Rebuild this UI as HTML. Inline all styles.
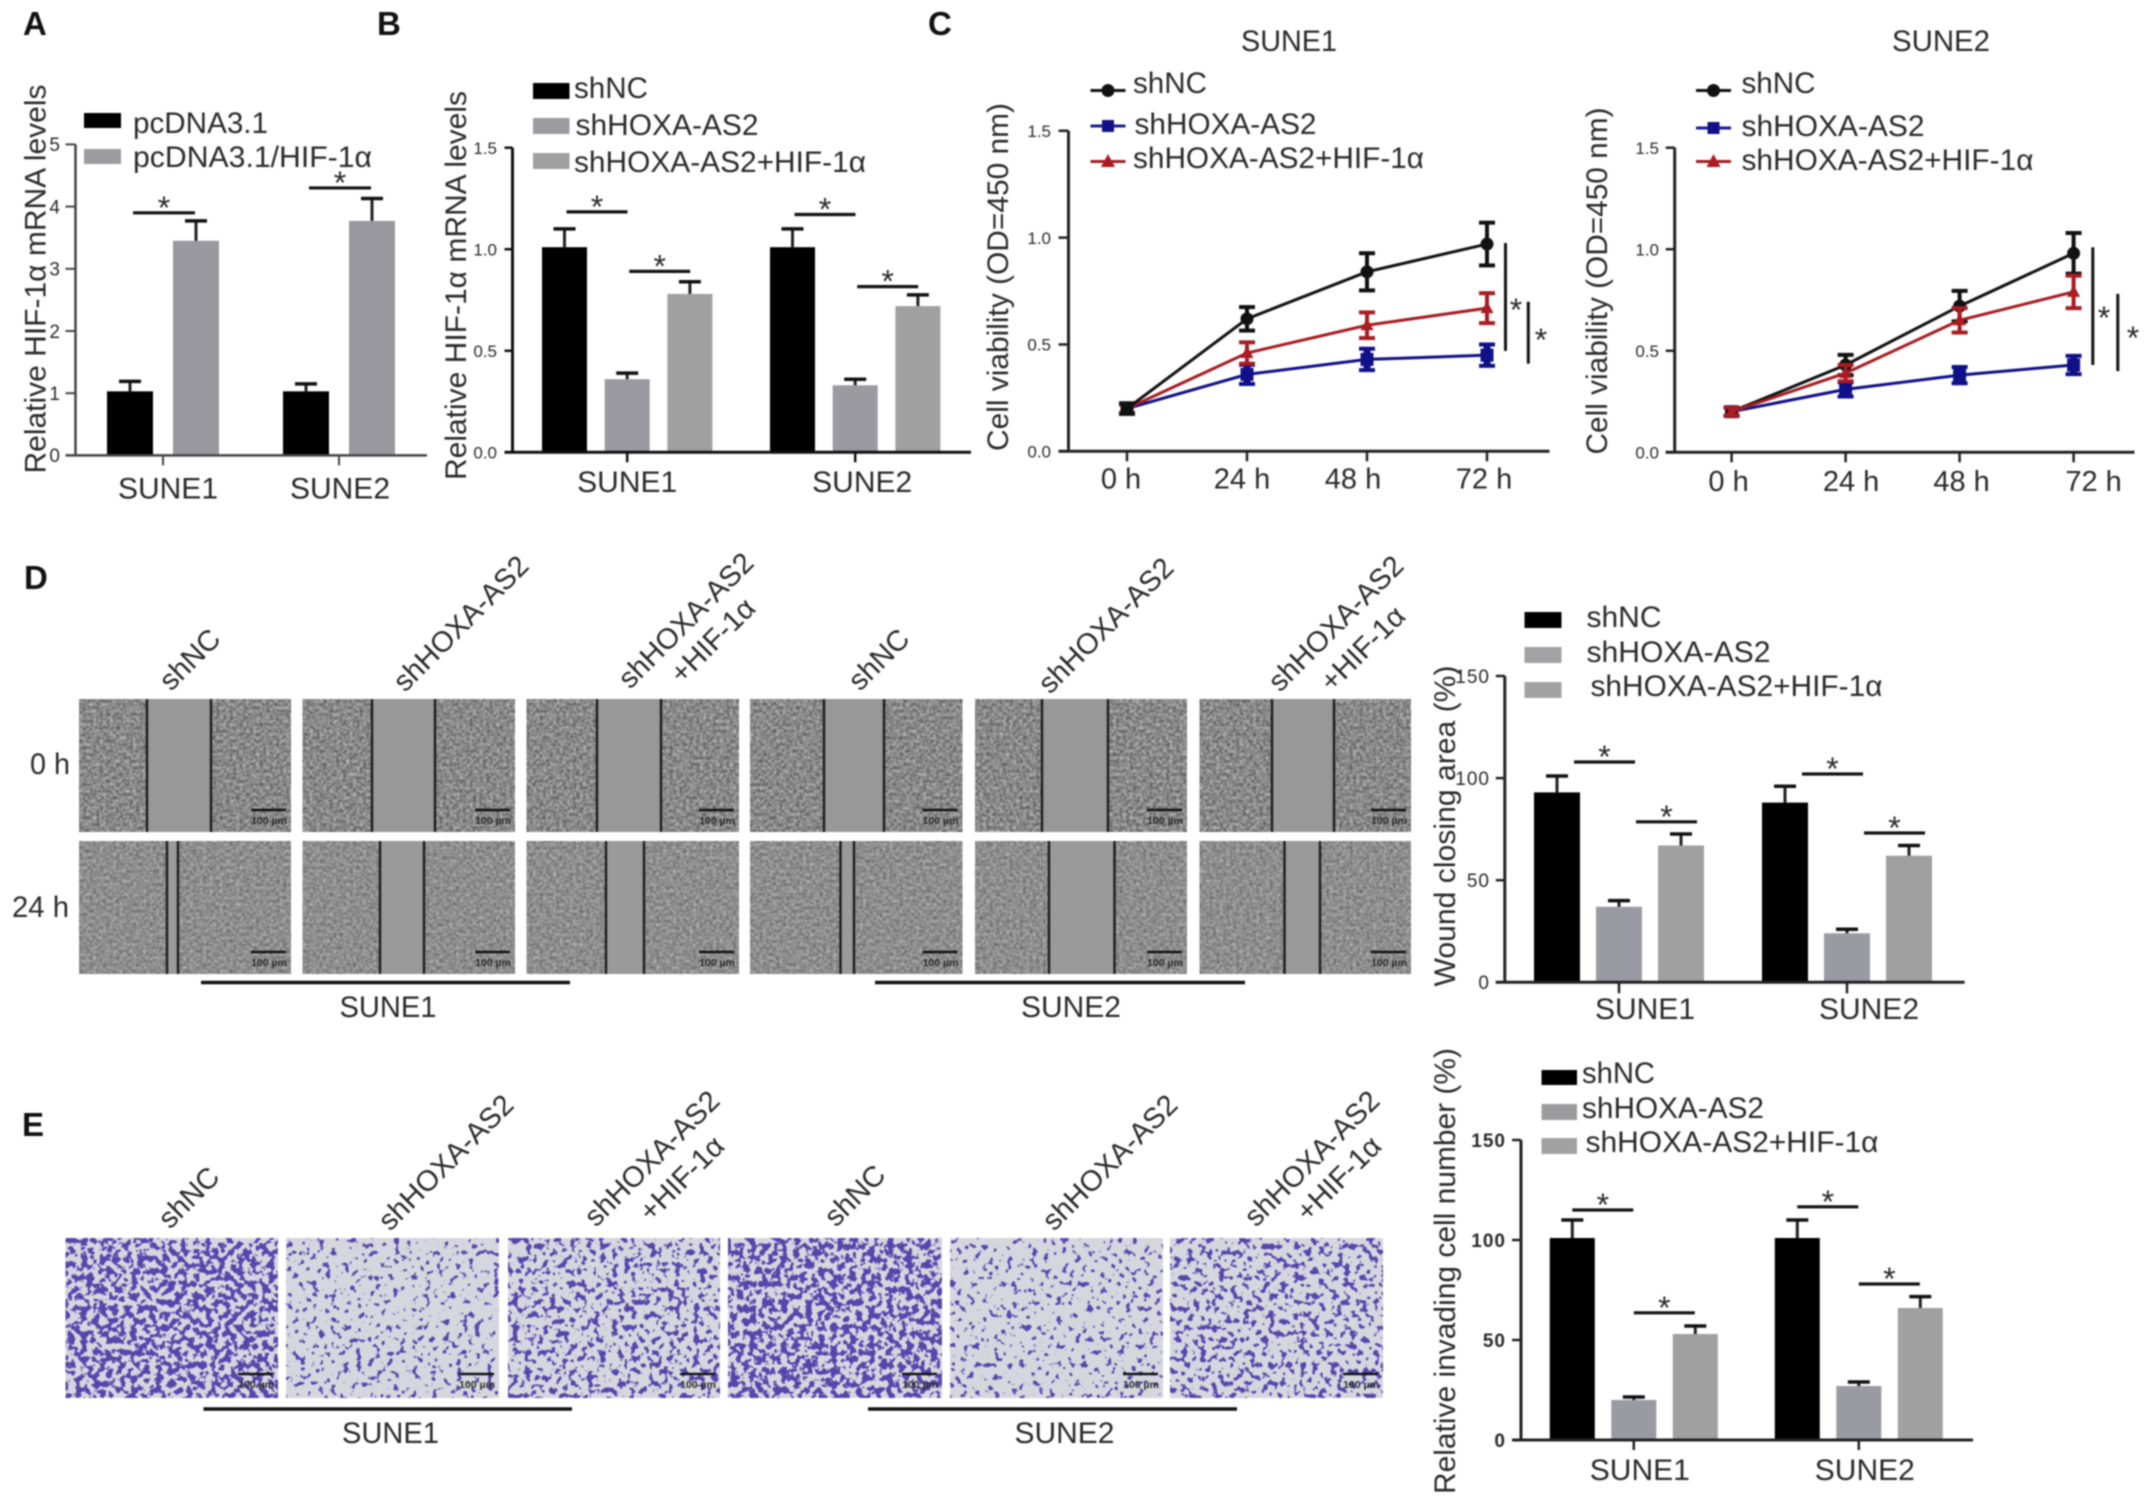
<!DOCTYPE html>
<html lang="en">
<head>
<meta charset="utf-8">
<title>HIF-1α rescue figure</title>
<style>
html,body{margin:0;padding:0;background:#fff;}
svg{display:block;filter:blur(0.7px);font-family:"Liberation Sans",Arial,sans-serif;}
text{fill:#2a2a2a;}
.panel{font-weight:bold;font-size:33px;fill:#111;}
.t30{font-size:30px;}
.t29{font-size:29px;}
</style>
</head>
<body>
<svg id="figure" xmlns="http://www.w3.org/2000/svg" width="2150" height="1507" viewBox="0 0 2150 1507">
<rect width="2150" height="1507" fill="#fff"/>

<text class="panel" x="23" y="35">A</text>
<text class="panel" x="377" y="35">B</text>
<text class="panel" x="928" y="35">C</text>
<text class="panel" x="24" y="589">D</text>
<text class="panel" x="22" y="1136">E</text>

<!-- Panel A static -->
<text class="t30" transform="translate(45.5 279) rotate(-90)" text-anchor="middle" textLength="389" lengthAdjust="spacingAndGlyphs">Relative HIF-1α mRNA levels</text>
<rect x="84" y="113" width="37" height="15" fill="#000"/>
<text class="t30" x="133" y="133" textLength="135" lengthAdjust="spacingAndGlyphs">pcDNA3.1</text>
<rect x="84" y="149" width="37" height="15" fill="#9c9ca0"/>
<text class="t30" x="133" y="167" textLength="239" lengthAdjust="spacingAndGlyphs">pcDNA3.1/HIF-1α</text>

<!-- Panel B static -->
<text class="t30" transform="translate(466 285.5) rotate(-90)" text-anchor="middle" textLength="389" lengthAdjust="spacingAndGlyphs">Relative HIF-1α mRNA levels</text>
<rect x="533" y="83" width="36.5" height="16" fill="#000"/>
<text class="t30" x="574" y="98" textLength="74" lengthAdjust="spacingAndGlyphs">shNC</text>
<rect x="533" y="118" width="36.5" height="16" fill="#9c9ca0"/>
<text class="t30" x="575.5" y="135" textLength="183" lengthAdjust="spacingAndGlyphs">shHOXA-AS2</text>
<rect x="533" y="153" width="36.5" height="16" fill="#a0a0a0"/>
<text class="t30" x="574" y="172" textLength="292" lengthAdjust="spacingAndGlyphs">shHOXA-AS2+HIF-1α</text>

<!-- Panel C1 static -->
<text class="t30" x="1289" y="51" text-anchor="middle" textLength="96" lengthAdjust="spacingAndGlyphs">SUNE1</text>
<text class="t30" transform="translate(1008 277) rotate(-90)" text-anchor="middle" textLength="348" lengthAdjust="spacingAndGlyphs">Cell viability (OD=450 nm)</text>
<g>
<line x1="1090.5" x2="1125.5" y1="90.5" y2="90.5" stroke="#111" stroke-width="3"/><circle cx="1108" cy="90.5" r="6.5" fill="#111"/>
<text class="t30" x="1133" y="93" textLength="74" lengthAdjust="spacingAndGlyphs">shNC</text></g>
<g>
<line x1="1090.5" x2="1125.5" y1="126" y2="126" stroke="#1a1a8c" stroke-width="3"/><rect x="1102" y="120" width="12" height="12" fill="#101088"/>
<text class="t30" x="1134.5" y="134" textLength="182" lengthAdjust="spacingAndGlyphs">shHOXA-AS2</text></g>
<g>
<line x1="1090.5" x2="1125.5" y1="161.5" y2="161.5" stroke="#a81c22" stroke-width="3"/><polygon points="1108,154 1115,167 1101,167" fill="#a81c22"/>
<text class="t30" x="1133" y="168" textLength="291" lengthAdjust="spacingAndGlyphs">shHOXA-AS2+HIF-1α</text></g>

<!-- Panel C2 static -->
<text class="t30" x="1941" y="51" text-anchor="middle" textLength="98" lengthAdjust="spacingAndGlyphs">SUNE2</text>
<text class="t30" transform="translate(1607 281) rotate(-90)" text-anchor="middle" textLength="347" lengthAdjust="spacingAndGlyphs">Cell viability (OD=450 nm)</text>
<g>
<line x1="1696" x2="1731" y1="90.5" y2="90.5" stroke="#111" stroke-width="3"/><circle cx="1713.5" cy="90.5" r="6.5" fill="#111"/>
<text class="t30" x="1741.5" y="93" textLength="74" lengthAdjust="spacingAndGlyphs">shNC</text></g>
<g>
<line x1="1696" x2="1731" y1="128" y2="128" stroke="#1a1a8c" stroke-width="3"/><rect x="1707.5" y="122" width="12" height="12" fill="#101088"/>
<text class="t30" x="1741.5" y="136" textLength="183" lengthAdjust="spacingAndGlyphs">shHOXA-AS2</text></g>
<g>
<line x1="1696" x2="1731" y1="161.5" y2="161.5" stroke="#a81c22" stroke-width="3"/><polygon points="1713.5,154 1720.5,167 1706.5,167" fill="#a81c22"/>
<text class="t30" x="1741.5" y="170" textLength="292" lengthAdjust="spacingAndGlyphs">shHOXA-AS2+HIF-1α</text></g>

<!-- Panel D labels -->
<text class="t30" x="30" y="774" textLength="40" lengthAdjust="spacingAndGlyphs">0 h</text>
<text class="t30" x="12" y="917" textLength="57" lengthAdjust="spacingAndGlyphs">24 h</text>
<text class="t29" transform="translate(171 692) rotate(-45)">shNC</text>
<text class="t29" transform="translate(405 693) rotate(-45)">shHOXA-AS2</text>
<text class="t29" transform="translate(630 690) rotate(-45)">shHOXA-AS2</text>
<text class="t29" transform="translate(682 685) rotate(-45)">+HIF-1α</text>
<text class="t29" transform="translate(860 692) rotate(-45)">shNC</text>
<text class="t29" transform="translate(1050 695) rotate(-45)">shHOXA-AS2</text>
<text class="t29" transform="translate(1280 693) rotate(-45)">shHOXA-AS2</text>
<text class="t29" transform="translate(1332 693) rotate(-45)">+HIF-1α</text>
<line x1="201" x2="570" y1="982.5" y2="982.5" stroke="#111" stroke-width="3.5"/>
<text class="t30" x="388" y="1017" text-anchor="middle" textLength="97" lengthAdjust="spacingAndGlyphs">SUNE1</text>
<line x1="875" x2="1245" y1="982.5" y2="982.5" stroke="#111" stroke-width="3.5"/>
<text class="t30" x="1071" y="1017" text-anchor="middle" textLength="100" lengthAdjust="spacingAndGlyphs">SUNE2</text>

<!-- Panel D chart static -->
<text class="t30" transform="translate(1455 826) rotate(-90)" text-anchor="middle" textLength="321" lengthAdjust="spacingAndGlyphs">Wound closing area (%)</text>
<rect x="1524.5" y="612" width="37" height="16" fill="#000"/>
<text class="t30" x="1586.5" y="627" textLength="75" lengthAdjust="spacingAndGlyphs">shNC</text>
<rect x="1524.5" y="647" width="37" height="16" fill="#a2a2a4"/>
<text class="t30" x="1586.5" y="662" textLength="184" lengthAdjust="spacingAndGlyphs">shHOXA-AS2</text>
<rect x="1524.5" y="682" width="37" height="16" fill="#a2a2a2"/>
<text class="t30" x="1590.5" y="696" textLength="292" lengthAdjust="spacingAndGlyphs">shHOXA-AS2+HIF-1α</text>

<!-- Panel E labels -->
<text class="t29" transform="translate(170 1230) rotate(-45)">shNC</text>
<text class="t29" transform="translate(390 1232) rotate(-45)">shHOXA-AS2</text>
<text class="t29" transform="translate(596 1228) rotate(-45)">shHOXA-AS2</text>
<text class="t29" transform="translate(651 1223) rotate(-45)">+HIF-1α</text>
<text class="t29" transform="translate(836 1228) rotate(-45)">shNC</text>
<text class="t29" transform="translate(1054 1232) rotate(-45)">shHOXA-AS2</text>
<text class="t29" transform="translate(1256 1228) rotate(-45)">shHOXA-AS2</text>
<text class="t29" transform="translate(1308 1223) rotate(-45)">+HIF-1α</text>
<line x1="203.5" x2="572" y1="1409" y2="1409" stroke="#111" stroke-width="3.5"/>
<text class="t30" x="390.5" y="1443" text-anchor="middle" textLength="97" lengthAdjust="spacingAndGlyphs">SUNE1</text>
<line x1="868" x2="1237" y1="1409" y2="1409" stroke="#111" stroke-width="3.5"/>
<text class="t30" x="1064.5" y="1443" text-anchor="middle" textLength="100" lengthAdjust="spacingAndGlyphs">SUNE2</text>

<!-- Panel E chart static -->
<text class="t30" transform="translate(1455 1271) rotate(-90)" text-anchor="middle" textLength="446" lengthAdjust="spacingAndGlyphs">Relative invading cell number (%)</text>
<rect x="1541.5" y="1070" width="35.5" height="15" fill="#000"/>
<text class="t30" x="1582" y="1083" textLength="73" lengthAdjust="spacingAndGlyphs">shNC</text>
<rect x="1541.5" y="1104" width="35.5" height="16" fill="#9c9ca0"/>
<text class="t30" x="1582" y="1118" textLength="182" lengthAdjust="spacingAndGlyphs">shHOXA-AS2</text>
<rect x="1541.5" y="1138" width="35.5" height="16" fill="#a2a2a2"/>
<text class="t30" x="1585.5" y="1152" textLength="293" lengthAdjust="spacingAndGlyphs">shHOXA-AS2+HIF-1α</text>

<defs id="defs"></defs>
<g id="plots"></g>
</svg>

<script>
// ---------- Panel A data ----------
const panelACategories = ['SUNE1', 'SUNE2'];
const panelATickValues = [0, 1, 2, 3, 4, 5];
const panelATickLabels = ['0', '1', '2', '3', '4', '5'];
const panelAControl = [1.03, 1.03];
const panelAControlErr = [0.16, 0.12];
const panelAHif = [3.45, 3.77];
const panelAHifErr = [0.32, 0.36];
const panelASigLevels = [3.9, 4.3];

// ---------- Panel B data ----------
const panelBCategories = ['SUNE1', 'SUNE2'];
const panelBTickValues = [0, 0.5, 1, 1.5];
const panelBTickLabels = ['0.0', '0.5', '1.0', '1.5'];
const panelBShNC = [1.01, 1.01];
const panelBShNCErr = [0.09, 0.09];
const panelBShHoxa = [0.36, 0.33];
const panelBShHoxaErr = [0.03, 0.03];
const panelBShHoxaHif = [0.78, 0.72];
const panelBShHoxaHifErr = [0.06, 0.055];
const panelBSigLevels = [1.184, 0.891, 1.171, 0.816];

// ---------- Panel C data ----------
const timeLabels = ['0 h', '24 h', '48 h', '72 h'];
const viabilityTickValues = [0, 0.5, 1, 1.5];
const viabilityTickLabels = ['0.0', '0.5', '1.0', '1.5'];
const c1ShNC = [0.2, 0.62, 0.84, 0.97];
const c1ShNCErr = [0.025, 0.055, 0.087, 0.1];
const c1ShHoxa = [0.2, 0.36, 0.43, 0.45];
const c1ShHoxaErr = [0.02, 0.045, 0.05, 0.05];
const c1ShHoxaHif = [0.2, 0.46, 0.59, 0.67];
const c1ShHoxaHifErr = [0.02, 0.05, 0.06, 0.07];
const c2ShNC = [0.2, 0.43, 0.72, 0.98];
const c2ShNCErr = [0.02, 0.05, 0.075, 0.1];
const c2ShHoxa = [0.2, 0.31, 0.38, 0.43];
const c2ShHoxaErr = [0.02, 0.035, 0.04, 0.045];
const c2ShHoxaHif = [0.2, 0.39, 0.65, 0.79];
const c2ShHoxaHifErr = [0.02, 0.04, 0.06, 0.08];

// ---------- Panel D data ----------
const panelDCategories = ['SUNE1', 'SUNE2'];
const panelDTickValues = [0, 50, 100, 150];
const panelDTickLabels = ['0', '50', '100', '150'];
const panelDShNC = [93, 88];
const panelDShNCErr = [8, 8];
const panelDShHoxa = [37, 24];
const panelDShHoxaErr = [3, 2];
const panelDShHoxaHif = [67, 62];
const panelDShHoxaHifErr = [5.6, 5];
const panelDSigLevels = [107.9, 78.6, 102, 73.1];

// ---------- Panel E data ----------
const panelECategories = ['SUNE1', 'SUNE2'];
const panelETickValues = [0, 50, 100, 150];
const panelETickLabels = ['0', '50', '100', '150'];
const panelEShNC = [101, 101];
const panelEShNCErr = [9, 9];
const panelEShHoxa = [20, 27];
const panelEShHoxaErr = [1.5, 2];
const panelEShHoxaHif = [53, 66];
const panelEShHoxaHifErr = [4, 5.7];
const panelESigLevels = [115, 63.6, 116.6, 78];

const NS = 'http://www.w3.org/2000/svg';
const plots = document.getElementById('plots');
const defs = document.getElementById('defs');

function make(tag, attrs, parent) {
  const node = document.createElementNS(NS, tag);
  for (const k in attrs) node.setAttribute(k, attrs[k]);
  parent.appendChild(node);
  return node;
}

function drawAxes(g, c, yOf) {
  const yAxis = make('line', {x1: c.axisX, x2: c.axisX, y1: c.yTop, y2: c.y0, stroke: c.axisColor, 'stroke-width': c.axisW}, g);
  
  
  const xAxis = make('line', {x1: c.axisX - c.tickLen, x2: c.xEnd, y1: c.y0, y2: c.y0, stroke: c.axisColor, 'stroke-width': c.axisW}, g);
  
  
  c.tickValues.forEach(function (v, i) {
    const tick = make('line', {x1: c.axisX - c.tickLen, x2: c.axisX, y1: yOf(v), y2: yOf(v), stroke: c.axisColor, 'stroke-width': c.axisW - 0.5}, g);
    
    
    const label = make('text', {x: c.tickRight, y: yOf(v) + c.tickFont * 0.36, 'text-anchor': 'end', 'font-size': c.tickFont, 'font-weight': c.tickWeight || 'normal', 'letter-spacing': c.tickSpacing || 0, fill: '#333'}, g);
    label.textContent = c.tickLabels[i];
    
    
  });
}

function drawXTick(g, c, x, text, dx) {
  const tick = make('line', {x1: x, x2: x, y1: c.y0, y2: c.y0 + c.xTickLen, stroke: c.axisColor, 'stroke-width': c.axisW - 0.5}, g);
  
  
  const label = make('text', {x: x + dx, y: c.labelY, 'text-anchor': 'middle', 'font-size': c.labelFont}, g);
  label.textContent = text;
  
  
}

function drawStar(g, x, y) {
  const star = make('text', {x: x, y: y + 18, 'text-anchor': 'middle', 'font-size': 32}, g);
  star.textContent = '*';
  
  
}

function drawBarChart(c) {
  const g = make('g', {}, plots);
  
  
  const yOf = function (v) { return c.y0 - v * (c.y0 - c.yTop) / c.yMax; };
  const barX = function (gi, si) { return c.start + gi * c.groupStep + si * c.barStep; };
  c.series.forEach(function (s, si) {
    s.values.forEach(function (v, gi) {
      const x = barX(gi, si);
      const bar = make('rect', {x: x, y: yOf(v), width: c.barW, height: c.y0 - yOf(v), fill: s.color}, g);
      
      
      const cx = x + c.barW / 2;
      const top = yOf(v + s.errs[gi]);
      const stem = make('line', {x1: cx, x2: cx, y1: yOf(v), y2: top, stroke: '#222', 'stroke-width': 3}, g);
      
      
      const cap = make('line', {x1: cx - 11, x2: cx + 11, y1: top, y2: top, stroke: '#111', 'stroke-width': 3.5}, g);
      
      
    });
  });
  drawAxes(g, c, yOf);
  const nSeries = c.series.length;
  c.categories.forEach(function (name, gi) {
    const mid = (barX(gi, 0) + barX(gi, nSeries - 1) + c.barW) / 2;
    drawXTick(g, c, mid, name, c.labelDx[gi]);
  });
  const pairs = nSeries - 1;
  c.sigLevels.forEach(function (level, i) {
    const gi = Math.floor(i / pairs);
    const si = i % pairs;
    const x1 = barX(gi, si) + c.barW / 2 + c.sigShift;
    const x2 = x1 + c.sigW;
    const y = yOf(level);
    const sig = make('line', {x1: x1, x2: x2, y1: y, y2: y, stroke: '#111', 'stroke-width': 3.2}, g);
    
    
    drawStar(g, (x1 + x2) / 2, y - 12);
  });
}

function drawMarker(g, kind, x, y, color) {
  let mark;
  if (kind === 'circle') mark = make('circle', {cx: x, cy: y, r: 6.5, fill: color}, g);
  else if (kind === 'square') mark = make('rect', {x: x - 6.5, y: y - 6.5, width: 13, height: 13, fill: color}, g);
  else mark = make('polygon', {points: (x) + ',' + (y - 7) + ' ' + (x + 6.5) + ',' + (y + 5) + ' ' + (x - 6.5) + ',' + (y + 5), fill: color}, g);
  
  
}

function drawLineChart(c) {
  const g = make('g', {}, plots);
  
  
  const yOf = function (v) { return c.y0 - v * (c.y0 - c.yTop) / c.yMax; };
  const xOf = function (i) { return c.start + i * c.step; };
  drawAxes(g, c, yOf);
  c.categories.forEach(function (name, i) { drawXTick(g, c, xOf(i), name, c.labelDx[i]); });
  c.series.forEach(function (s) {
    const path = make('polyline', {points: s.values.map(function (v, i) { return xOf(i) + ',' + yOf(v); }).join(' '), fill: 'none', stroke: s.color, 'stroke-width': 3}, g);
    
    
    s.values.forEach(function (v, i) {
      const x = xOf(i);
      const t = yOf(v + s.errs[i]);
      const b = yOf(v - s.errs[i]);
      const stem = make('line', {x1: x, x2: x, y1: t, y2: b, stroke: s.color, 'stroke-width': s.stemW}, g);
      
      
      const cap1 = make('line', {x1: x - 8, x2: x + 8, y1: t, y2: t, stroke: s.color, 'stroke-width': 4}, g);
      
      
      const cap2 = make('line', {x1: x - 8, x2: x + 8, y1: b, y2: b, stroke: s.color, 'stroke-width': 4}, g);
      
      
      drawMarker(g, s.marker, x, yOf(v), s.color);
    });
  });
  c.sigs.forEach(function (b) {
    const sig = make('line', {x1: b.x, x2: b.x, y1: yOf(b.hi), y2: yOf(b.lo), stroke: '#111', 'stroke-width': 3}, g);
    
    
    drawStar(g, b.sx, b.sy);
  });
}

drawBarChart({
  name: 'panel-a-bar-chart', categories: panelACategories, tickValues: panelATickValues, tickLabels: panelATickLabels,
  yMax: 5, y0: 455.4, yTop: 144.4, axisX: 75.5, xEnd: 427, tickLen: 10, axisColor: '#444', axisW: 2.5,
  tickRight: 60, tickFont: 19, labelY: 498.5, labelFont: 30, labelDx: [5, 1], xTickLen: 10,
  start: 107, groupStep: 176, barStep: 66, barW: 46,
  series: [
    {values: panelAControl, errs: panelAControlErr, color: '#000'},
    {values: panelAHif, errs: panelAHifErr, color: '#98989e'}
  ],
  sigLevels: panelASigLevels, sigShift: 3, sigW: 62
});

drawBarChart({
  name: 'panel-b-bar-chart', categories: panelBCategories, tickValues: panelBTickValues, tickLabels: panelBTickLabels,
  yMax: 1.5, y0: 452.3, yTop: 147.7, axisX: 512.5, xEnd: 971, tickLen: 8, axisColor: '#111', axisW: 3,
  tickRight: 497, tickFont: 17, labelY: 492, labelFont: 30, labelDx: [0, 7], xTickLen: 10,
  start: 542, groupStep: 228, barStep: 62.7, barW: 45,
  series: [
    {values: panelBShNC, errs: panelBShNCErr, color: '#000'},
    {values: panelBShHoxa, errs: panelBShHoxaErr, color: '#9a9aa0'},
    {values: panelBShHoxaHif, errs: panelBShHoxaHifErr, color: '#a0a0a0'}
  ],
  sigLevels: panelBSigLevels, sigShift: 2, sigW: 61
});

drawLineChart({
  name: 'panel-c1-line-chart', categories: timeLabels, tickValues: viabilityTickValues, tickLabels: viabilityTickLabels,
  yMax: 1.5, y0: 451.3, yTop: 130.8, axisX: 1068.5, xEnd: 1549.5, tickLen: 10, axisColor: '#222', axisW: 3,
  tickRight: 1051, tickFont: 17, labelY: 488.5, labelFont: 29, labelDx: [-6, -5, -14, -3], xTickLen: 10,
  start: 1127, step: 120,
  series: [
    {values: c1ShHoxa, errs: c1ShHoxaErr, color: '#101088', marker: 'square', stemW: 7},
    {values: c1ShHoxaHif, errs: c1ShHoxaHifErr, color: '#a81c22', marker: 'triangle', stemW: 4},
    {values: c1ShNC, errs: c1ShNCErr, color: '#111', marker: 'circle', stemW: 4}
  ],
  sigs: [
    {x: 1505.5, hi: 0.975, lo: 0.47, sx: 1516, sy: 303},
    {x: 1528.3, hi: 0.7, lo: 0.41, sx: 1541, sy: 333}
  ]
});

drawLineChart({
  name: 'panel-c2-line-chart', categories: timeLabels, tickValues: viabilityTickValues, tickLabels: viabilityTickLabels,
  yMax: 1.5, y0: 452.3, yTop: 147.7, axisX: 1674.7, xEnd: 2134.5, tickLen: 9, axisColor: '#222', axisW: 3,
  tickRight: 1659, tickFont: 17, labelY: 491, labelFont: 29, labelDx: [-3, 5.5, 2, 20], xTickLen: 10,
  start: 1731.6, step: 114,
  series: [
    {values: c2ShHoxa, errs: c2ShHoxaErr, color: '#101088', marker: 'square', stemW: 7},
    {values: c2ShNC, errs: c2ShNCErr, color: '#111', marker: 'circle', stemW: 4},
    {values: c2ShHoxaHif, errs: c2ShHoxaHifErr, color: '#a81c22', marker: 'triangle', stemW: 4}
  ],
  sigs: [
    {x: 2092.8, hi: 1.01, lo: 0.43, sx: 2104, sy: 311},
    {x: 2117.8, hi: 0.78, lo: 0.4, sx: 2133, sy: 331}
  ]
});

drawBarChart({
  name: 'panel-d-bar-chart', categories: panelDCategories, tickValues: panelDTickValues, tickLabels: panelDTickLabels,
  yMax: 150, y0: 982.3, yTop: 676, axisX: 1504.8, xEnd: 1964.6, tickLen: 9, axisColor: '#222', axisW: 3,
  tickRight: 1490, tickFont: 19, tickSpacing: 1, labelY: 1019, labelFont: 30, labelDx: [26, 22], xTickLen: 11,
  start: 1534, groupStep: 228, barStep: 62, barW: 46,
  series: [
    {values: panelDShNC, errs: panelDShNCErr, color: '#000'},
    {values: panelDShHoxa, errs: panelDShHoxaErr, color: '#9a9aa2'},
    {values: panelDShHoxaHif, errs: panelDShHoxaHifErr, color: '#a0a0a0'}
  ],
  sigLevels: panelDSigLevels, sigShift: 17, sigW: 61
});

drawBarChart({
  name: 'panel-e-bar-chart', categories: panelECategories, tickValues: panelETickValues, tickLabels: panelETickLabels,
  yMax: 150, y0: 1440, yTop: 1140, axisX: 1521, xEnd: 1973, tickLen: 9, axisColor: '#222', axisW: 3,
  tickRight: 1506, tickFont: 19, tickWeight: 'bold', tickSpacing: 1, labelY: 1480, labelFont: 30, labelDx: [6, 6], xTickLen: 10,
  start: 1549.8, groupStep: 225, barStep: 61.5, barW: 45,
  series: [
    {values: panelEShNC, errs: panelEShNCErr, color: '#000'},
    {values: panelEShHoxa, errs: panelEShHoxaErr, color: '#9a9aa2'},
    {values: panelEShHoxaHif, errs: panelEShHoxaHifErr, color: '#a0a0a0'}
  ],
  sigLevels: panelESigLevels, sigShift: 0, sigW: 61
});

// ---------- Micrograph tiles (textures only, not chart data) ----------
function noiseFilter(id, freq, octaves, seed, matrix) {
  const f = make('filter', {id: id, x: 0, y: 0, width: '100%', height: '100%', 'color-interpolation-filters': 'sRGB'}, defs);
  make('feTurbulence', {type: 'fractalNoise', baseFrequency: freq, numOctaves: octaves, seed: seed}, f);
  make('feColorMatrix', {type: 'matrix', values: matrix}, f);
}

function scaleBar(g, right, y) {
  const bar = make('line', {x1: right - 40, x2: right - 5, y1: y, y2: y, stroke: '#111', 'stroke-width': 2.5}, g);
  
  
  const label = make('text', {x: right - 22, y: y + 14, 'text-anchor': 'middle', 'font-size': 10.5, 'font-weight': 'bold', fill: '#333'}, g);
  label.textContent = '100 µm';
  
  
}

function drawWoundTiles() {
  const cols = [[79, 291], [302.5, 515], [526.5, 739], [750, 962.5], [975, 1187], [1199.5, 1411]];
  const rows = [
    {top: 699, bottom: 832, base: '0.55', off: '0.26', gapFill: '#989898', gaps: [[147, 211], [372, 435], [597, 661], [824, 884], [1042, 1108], [1272, 1334]]},
    {top: 841, bottom: 974, base: '0.42', off: '0.345', gapFill: '#9a9a9a', gaps: [[167, 178], [380, 424], [606, 644], [840.5, 854], [1049, 1114.5], [1284.5, 1320]]}
  ];
  const group = make('g', {}, plots);
  
  
  rows.forEach(function (r, ri) {
    cols.forEach(function (col, ci) {
      const id = 'wound' + ri + '_' + ci;
      const row = r.base + ' 0 0 0 ' + r.off + ' ';
      noiseFilter(id, '0.3', 2, 11 + ri * 7 + ci * 3, row + row + row + '0 0 0 0 1');
      const tile = make('g', {}, group);
      
      
      make('rect', {x: col[0], y: r.top, width: col[1] - col[0], height: r.bottom - r.top, fill: '#888', filter: 'url(#' + id + ')'}, tile);
      const gap = r.gaps[ci];
      make('rect', {x: gap[0], y: r.top, width: gap[1] - gap[0], height: r.bottom - r.top, fill: r.gapFill}, tile);
      gap.forEach(function (x) {
        const edge = make('line', {x1: x, x2: x, y1: r.top, y2: r.bottom, stroke: '#1c1c1c', 'stroke-width': 2.4}, tile);
        
        
      });
      scaleBar(tile, col[1], r.top + 111);
    });
  });
}

function drawInvasionTiles() {
  const cols = [[65.5, 278], [286, 499], [508, 720], [728, 942], [950, 1163], [1170, 1383]];
  const thresholds = [0.475, 0.6, 0.54, 0.475, 0.6, 0.55];
  const top = 1238, bottom = 1398;
  const group = make('g', {}, plots);
  
  
  cols.forEach(function (col, ci) {
    const id = 'cells' + ci;
    const k = 14;
    const b = (-k * thresholds[ci]).toFixed(2);
    noiseFilter(id, '0.16', 2, 5 + ci * 4, '0 0 0 0 0.34 0 0 0 0 0.27 0 0 0 0 0.68 ' + k + ' 0 0 0 ' + b);
    const tile = make('g', {}, group);
    
    
    make('rect', {x: col[0], y: top, width: col[1] - col[0], height: bottom - top, fill: '#d6d6de'}, tile);
    make('rect', {x: col[0], y: top, width: col[1] - col[0], height: bottom - top, fill: '#fff', filter: 'url(#' + id + ')'}, tile);
    scaleBar(tile, col[1], top + 136);
  });
}

drawWoundTiles();
drawInvasionTiles();
</script>
</body>
</html>
